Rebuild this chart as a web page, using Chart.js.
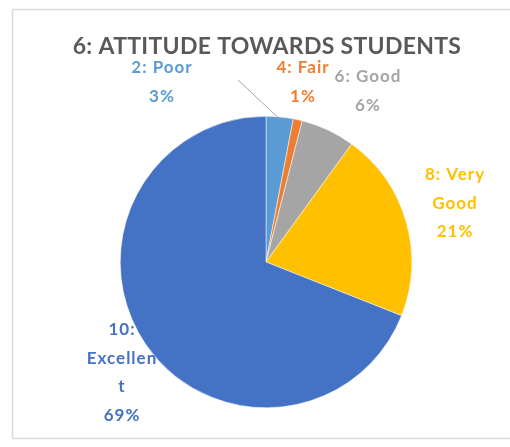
<!DOCTYPE html>
<html>
<head>
<meta charset="utf-8">
<script src="https://cdn.jsdelivr.net/npm/chart.js@4.4.1/dist/chart.umd.min.js"></script>
<style>
  html, body { margin: 0; padding: 0; background: #fff; }
  #wrap { width: 510px; height: 447px; }
</style>
</head>
<body>
<div id="wrap"><canvas id="myChart" width="510" height="447"></canvas></div>
<script>
// datos del grafico
const titulo = '6: ATTITUDE TOWARDS STUDENTS';
const categorias = ['2: Poor', '4: Fair', '6: Good', '8: Very Good', '10: Excellent'];
const porcentajes = [3, 1, 6, 21, 69];
const colores = ['#5B9BD5', '#ED7D31', '#A5A5A5', '#FFC000', '#4472C4'];
// como Excel parte las etiquetas en lineas
const lineasEtiqueta = [
    ['2: Poor', '3%'],
    ['4: Fair', '1%'],
    ['6: Good', '6%'],
    ['8: Very', 'Good', '21%'],
    ['10:', 'Excellen', 't', '69%']
];

// donde va cada etiqueta respecto al centro del pie (dx, dy de la primera linea)
const posEtiqueta = [[-104, -194], [37, -194], [102, -185], [189, -87], [-144, 68]];
const altoLinea = 28.5;

const marco = {
    id: 'marco',
    beforeDraw(chart) {
        const ctx = chart.ctx;
        ctx.save();
        ctx.strokeStyle = '#d9d9d9';
        ctx.lineWidth = 1.5;
        ctx.beginPath();
        ctx.moveTo(520, 9.5);
        ctx.lineTo(12.5, 9.5);
        ctx.lineTo(12.5, 438.5);
        ctx.lineTo(520, 438.5);
        ctx.stroke();
        ctx.restore();
    }
};

const etiquetas = {
    id: 'etiquetas',
    afterDraw(chart) {
        const ctx = chart.ctx;
        const arcos = chart.getDatasetMeta(0).data;
        const cx = arcos[0].x, cy = arcos[0].y;
        ctx.save();
        // titulo
        ctx.fillStyle = '#595959';
        ctx.font = 'bold 23px Lato';
        ctx.letterSpacing = '0.3px';
        ctx.textAlign = 'center';
        ctx.textBaseline = 'middle';
        ctx.fillText(titulo, 267, 47);

        // linea guia de "Poor"
        const a = arcos[0];
        const medio = (a.startAngle + a.endAngle) / 2;
        ctx.strokeStyle = '#A6A6A6';
        ctx.lineWidth = 1;
        ctx.beginPath();
        ctx.moveTo(cx - 28, cy - 182);
        ctx.lineTo(cx + Math.cos(medio) * (a.outerRadius - 2), cy + Math.sin(medio) * (a.outerRadius - 2));
        ctx.stroke();

        ctx.font = 'bold 17px Lato';
        ctx.letterSpacing = '1px';
        lineasEtiqueta.forEach((lineas, i) => {
            ctx.fillStyle = colores[i];
            lineas.forEach((t, j) => {
                ctx.fillText(t, cx + posEtiqueta[i][0], cy + posEtiqueta[i][1] + j * altoLinea);
            });
        });
        ctx.restore();
    }
};

const data = {
    labels: categorias,
    datasets: [{
        data: porcentajes,
        backgroundColor: colores,
        borderColor: '#ffffff',
        borderWidth: 0.5
    }]
};

const config = {
    type: 'pie',
    data,
    options: {
        responsive: false,
        animation: false,
        layout: { padding: { left: 120, right: 98, top: 116, bottom: 39 } },
        plugins: {
            legend: { display: false },
            title: { display: false },
            tooltip: { enabled: false }
        }
    },
    plugins: [marco, etiquetas]
};

const myChart = new Chart(document.getElementById('myChart').getContext('2d'), config);
</script>
</body>
</html>
